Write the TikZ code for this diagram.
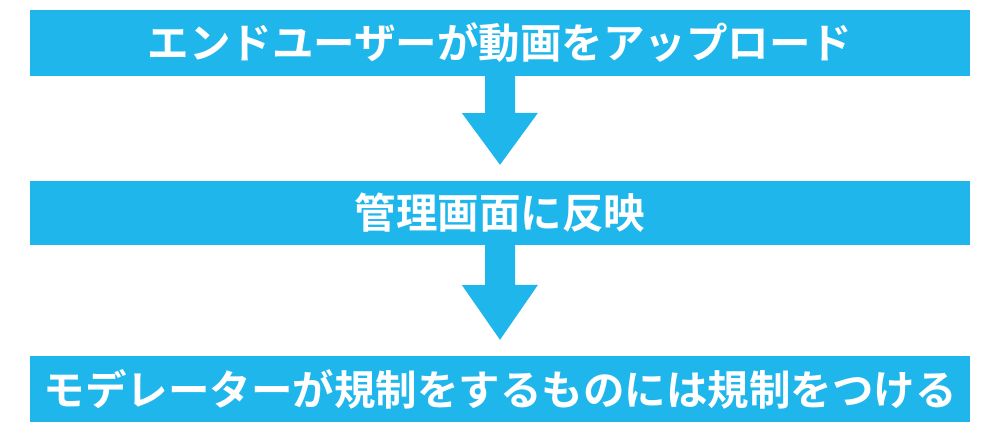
\documentclass[tikz,border=0pt]{standalone}
\usepackage{fontspec}
\newfontfamily\cjk{Noto Sans CJK JP Bold}
\definecolor{sky}{HTML}{1FB6EC}
\begin{document}
\begin{tikzpicture}[x=1pt,y=-1pt,
  box/.style={fill=sky,minimum width=940pt,inner sep=0pt,text=white,font=\cjk\fontsize{41.5}{44}\selectfont},
  flow/.style={fill=sky}]
\useasboundingbox (0,0) rectangle (1000,436);
\node[box,minimum height=66pt] (b1) at (500,43) {エンドユーザーが動画をアップロード};
\node[box,minimum height=64pt] (b2) at (500,213) {管理画面に反映};
\node[box,minimum height=66pt] (b3) at (500,389) {モデレーターが規制をするものには規制をつける};
\fill[flow] ([xshift=-15pt]b1.south) -- ++(0,37) -- ++(-23,0) -- ([yshift=16pt]b2.north) -- ++(38,-52) -- ++(-23,0) -- ([xshift=15pt]b1.south) -- cycle;
\fill[flow] ([xshift=-15pt]b2.south) -- ++(0,40) -- ++(-23,0) -- ([yshift=16pt]b3.north) -- ++(38,-55) -- ++(-23,0) -- ([xshift=15pt]b2.south) -- cycle;
\end{tikzpicture}
\end{document}
